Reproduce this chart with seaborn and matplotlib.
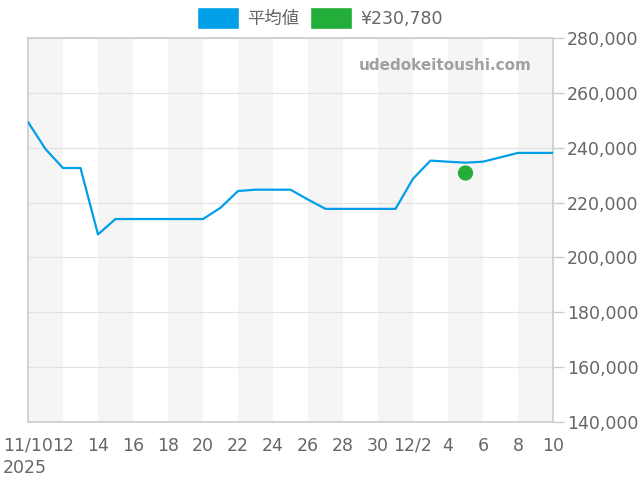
import pandas as pd
import matplotlib
matplotlib.use("Agg")
import matplotlib.pyplot as plt
from matplotlib.patches import Patch
import seaborn as sns

# 日次の平均値 (11/10 - 12/10)
dates = pd.date_range("2025-11-10", "2025-12-10", freq="D")
avg_values = [249400, 239500, 232600, 232600, 208400, 214000, 214000, 214000,
              214000, 214000, 214000, 218100, 224200, 224700, 224700, 224700,
              221100, 217700, 217700, 217700, 217700, 217700, 228700, 235300,
              234900, 234550, 234900, 236500, 238100, 238100, 238100]
point_date = pd.Timestamp("2025-12-05")
point_value = 230780
tick_labels = ["11/10\n2025", "12", "14", "16", "18", "20", "22", "24", "26",
               "28", "30", "12/2", "4", "6", "8", "10"]

blue = "#009fe8"
green = "#22ae38"
txt = "#666666"

sns.set_style("white")
plt.rcParams["font.family"] = ["DejaVu Sans", "Noto Sans CJK JP"]

fig = plt.figure(figsize=(6.4, 4.8), dpi=100)
ax = fig.add_axes([28 / 640, 58 / 480, 525 / 640, 384 / 480])

# 背景の縞模様 (2日ごと)
for i in range(0, len(dates) - 1, 4):
    ax.axvspan(dates[i], dates[i + 2], color="#f5f5f5", lw=0, zorder=0)

df = pd.DataFrame({"date": dates, "value": avg_values})
sns.lineplot(data=df, x="date", y="value", color=blue, lw=1.6, ax=ax, zorder=3)
sns.scatterplot(x=[point_date], y=[point_value], color=green, s=120,
                edgecolor="none", ax=ax, zorder=4)

ax.set_xlim(dates[0], dates[-1])
ax.set_ylim(140000, 280000)
ax.set_yticks(range(140000, 280001, 20000))
ax.yaxis.tick_right()
ax.yaxis.set_major_formatter(plt.FuncFormatter(lambda v, p: f"{int(v):,}"))
ax.set_xticks(dates[::2])
ax.set_xticklabels(tick_labels, ha="center", linespacing=1.3)
ax.get_xticklabels()[0].set_multialignment("left")
ax.tick_params(axis="both", colors="#cccccc", labelcolor=txt, labelsize=12.5,
               length=8, width=1)
ax.tick_params(axis="x", length=6, pad=4.5)
ax.tick_params(axis="y", pad=2)
ax.grid(axis="y", color="#e2e2e2", lw=0.8)
ax.set_axisbelow(True)
ax.set_xlabel("")
ax.set_ylabel("")
for s in ax.spines.values():
    s.set_color("#cccccc")
    s.set_linewidth(1.2)

ax.text(0.96, 0.928, "udedokeitoushi.com", transform=ax.transAxes, ha="right",
        va="center", fontsize=11, fontweight="bold", color="#a0a0a0")

handles = [Patch(facecolor=blue, label="平均値"),
           Patch(facecolor=green, label="¥230,780")]
fig.legend(handles=handles, loc="center", bbox_to_anchor=(320 / 640, 1 - 18 / 480),
           ncol=2, frameon=False, fontsize=12.5, handlelength=2.4,
           handleheight=1.5, handletextpad=0.5, columnspacing=0.6,
           labelcolor=txt)

fig.savefig("out.png", dpi=100)
